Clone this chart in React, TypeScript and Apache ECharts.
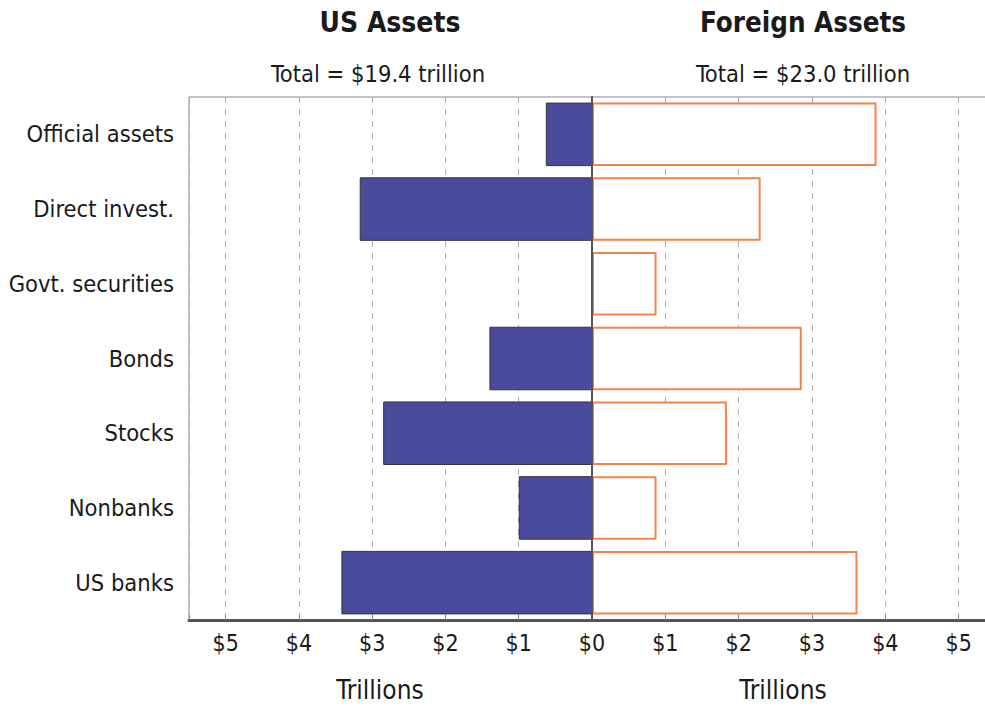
import React, { useEffect, useRef } from "react";
import * as echarts from "echarts";

const categories = [
  "US banks",
  "Nonbanks",
  "Stocks",
  "Bonds",
  "Govt. securities",
  "Direct invest.",
  "Official assets",
];
const usAssets = [3.42, 1.0, 2.85, 1.4, 0, 3.17, 0.63];
const foreignAssets = [3.62, 0.88, 1.84, 2.86, 0.88, 2.3, 3.88];
const leftTitle = "US Assets";
const rightTitle = "Foreign Assets";
const leftTotal = "Total = $19.4 trillion";
const rightTotal = "Total = $23.0 trillion";
const axisName = "Trillions";

const FONT = "'Liberation Sans Narrow', 'Arial Narrow', 'DejaVu Sans Condensed', sans-serif";

export default function App() {
  const ref = useRef<HTMLDivElement>(null);
  useEffect(() => {
    if (!ref.current) return;
    const chart = echarts.init(ref.current, undefined, { renderer: "svg" });
    const textBase = { fontFamily: FONT, color: "#1a1a1a" };
    const xCommon = (inverse: boolean, hideZero: boolean, gridIndex: number, max: number) => ({
      type: "value",
      gridIndex,
      inverse,
      min: 0,
      max,
      interval: 1,
      axisLine: { show: true, lineStyle: { color: "#555", width: 3 } },
      axisTick: { show: true, inside: true, length: 5, lineStyle: { color: "#888" } },
      axisLabel: {
        ...textBase,
        fontSize: 23,
        margin: 11,
        formatter: (v: number) =>
          Math.abs(v - Math.round(v)) > 1e-6 || (hideZero && v === 0) ? "" : "$" + v,
      },
      splitLine: { show: true, lineStyle: { color: "#b0b0b0", type: [6, 6], width: 1 } },
    });
    chart.setOption({
      animation: false,
      backgroundColor: "#fff",
      grid: [
        { left: 189, right: 393, top: 97, bottom: 87, show: true, borderColor: "#888", borderWidth: 1, outerBoundsMode: "none" },
        { left: 592, right: -3, top: 97, bottom: 87, show: true, borderColor: "#888", borderWidth: 1, outerBoundsMode: "none" },
      ],
      xAxis: [xCommon(true, false, 0, 5.5), xCommon(false, true, 1, 5.4)],
      yAxis: [
        {
          type: "category",
          gridIndex: 0,
          data: categories,
          position: "left",
          axisLine: { show: true, lineStyle: { color: "#777", width: 1 } },
          axisTick: { show: false },
          axisLabel: { ...textBase, fontSize: 23.5, margin: 15 },
        },
        {
          type: "category",
          gridIndex: 1,
          data: categories,
          position: "left",
          axisLine: { show: true, lineStyle: { color: "#555", width: 2 } },
          axisTick: { show: false },
          axisLabel: { show: false },
          z: 10,
        },
      ],
      series: [
        {
          type: "bar",
          xAxisIndex: 0,
          yAxisIndex: 0,
          data: usAssets,
          barWidth: "85%",
          itemStyle: { color: "#4b4b9e", borderColor: "#333", borderWidth: 1 },
        },
        {
          type: "bar",
          xAxisIndex: 1,
          yAxisIndex: 1,
          data: foreignAssets,
          barWidth: "85%",
          itemStyle: { color: "#ffffff", borderColor: "#f4844a", borderWidth: 2 },
        },
      ],
      graphic: [
        { type: "text", x: 390, y: 22, style: { text: leftTitle, font: `bold 28px ${FONT}`, fill: "#1a1a1a", textAlign: "center", textVerticalAlign: "middle" } },
        { type: "text", x: 803, y: 22, style: { text: rightTitle, font: `bold 27.5px ${FONT}`, fill: "#1a1a1a", textAlign: "center", textVerticalAlign: "middle" } },
        { type: "text", x: 378, y: 74, style: { text: leftTotal, font: `23.5px ${FONT}`, fill: "#1a1a1a", textAlign: "center", textVerticalAlign: "middle" } },
        { type: "text", x: 803, y: 74, style: { text: rightTotal, font: `23.5px ${FONT}`, fill: "#1a1a1a", textAlign: "center", textVerticalAlign: "middle" } },
        { type: "text", x: 380, y: 690, style: { text: axisName, font: `26px ${FONT}`, fill: "#1a1a1a", textAlign: "center", textVerticalAlign: "middle" } },
        { type: "text", x: 783, y: 690, style: { text: axisName, font: `26px ${FONT}`, fill: "#1a1a1a", textAlign: "center", textVerticalAlign: "middle" } },
      ],
    });
    return () => chart.dispose();
  }, []);
  return (
    <div
      ref={ref}
      style={{ position: "absolute", left: 0, top: 0, width: 985, height: 707 }}
    />
  );
}
